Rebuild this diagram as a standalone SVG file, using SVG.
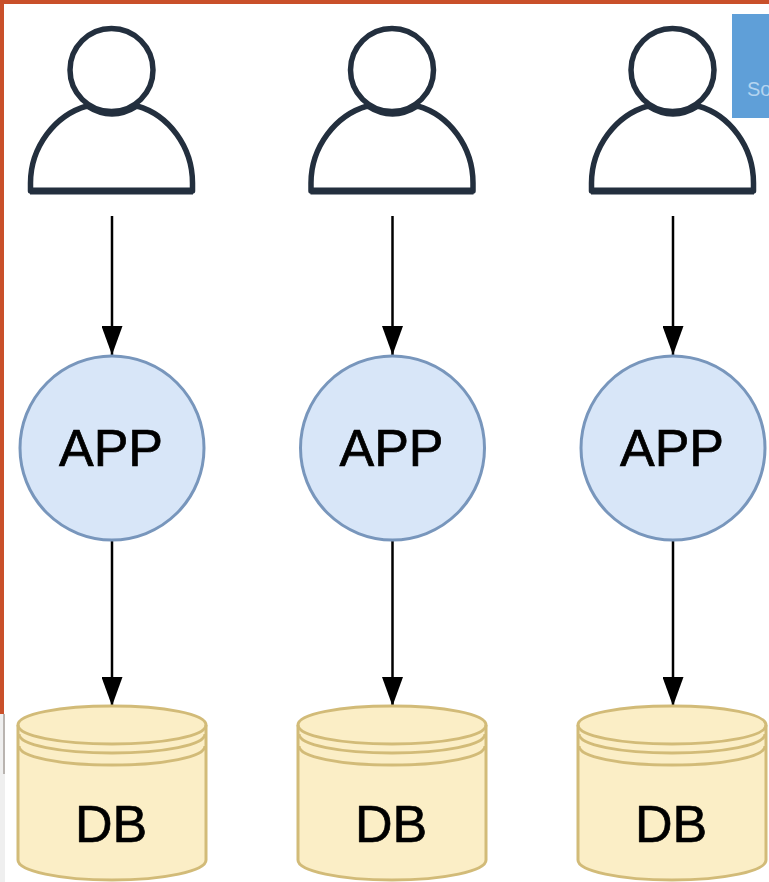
<svg xmlns="http://www.w3.org/2000/svg" width="769" height="882" viewBox="0 0 769 882">
<style>
.user{fill:#fff;stroke:#232f3e;stroke-width:5.500;stroke-linejoin:round}
.app{fill:#d8e6f8;stroke:#7896bc;stroke-width:3}
.db{fill:#fbeec6;stroke:#d2bb78;stroke-width:3}
.line{fill:none;stroke:#000;stroke-width:2.500}
.t{font-family:"Liberation Sans",Arial,sans-serif;font-size:52px;fill:#000;stroke:#000;stroke-width:.7;text-anchor:middle}
</style>
<defs>
<marker id="arrow" markerUnits="userSpaceOnUse" markerWidth="29" markerHeight="21" refX="29" refY="10.500" orient="auto" viewBox="0 0 29 21"><path d="M0 0L29 10.500L0 21Z" fill="#000"/></marker>
<g id="person">
<path class="user" d="M30.500 191V183C30.500 147 55 115 87 106Q112 122 137 106C169 115 192.500 147 192.500 183V191Z"/>
<path d="M30 191H193" fill="none" stroke="#232f3e" stroke-width="7"/>
<circle class="user" cx="111.500" cy="70" r="41.500"/>
</g>
<g id="cyl">
<path class="db" d="M18 725V860C18 871 60 880 112 880S206 871 206 860V725C206 714 164 706 112 706S18 714 18 725Z"/>
<path class="db" style="fill:none" d="M18 725C18 736 60 744 112 744S206 736 206 725M19 734C19 745 60 753 112 753S205 745 205 734M19 746C19 757 60 765 112 765S205 757 205 746"/>
</g>
</defs>
<rect width="769" height="882" fill="#fff"/>
<rect x="0" y="714" width="5" height="168" fill="#efefef"/>
<rect x="3" y="714" width="2" height="60" fill="#b9b4b0"/>
<rect x="0" y="0" width="769" height="4" fill="#c9502a"/>
<rect x="0" y="0" width="4" height="714" fill="#c9502a"/>
<g id="note">
<rect x="732" y="14" width="37" height="104" fill="#5f9fd8"/>
<text x="747" y="96" font-family="'Liberation Sans',Arial,sans-serif" font-size="20" fill="#b4d4f0">So</text>
</g>
<g id="connectors">
<path class="line" d="M112 216V355" marker-end="url(#arrow)"/>
<path class="line" d="M392.500 216V355" marker-end="url(#arrow)"/>
<path class="line" d="M673 216V355" marker-end="url(#arrow)"/>
<path class="line" d="M112 540V706" marker-end="url(#arrow)"/>
<path class="line" d="M392.500 540V706" marker-end="url(#arrow)"/>
<path class="line" d="M673 540V706" marker-end="url(#arrow)"/>
</g>
<g id="user1"><use href="#person"/></g>
<g id="user2"><use href="#person" x="280.500"/></g>
<g id="user3"><use href="#person" x="561"/></g>
<g id="app1"><circle class="app" cx="112" cy="448" r="92"/><text class="t" x="111" y="466">APP</text></g>
<g id="app2"><circle class="app" cx="392.500" cy="448" r="92"/><text class="t" x="391.500" y="466">APP</text></g>
<g id="app3"><circle class="app" cx="673" cy="448" r="92"/><text class="t" x="672" y="466">APP</text></g>
<g id="db1"><use href="#cyl"/><text class="t" x="111" y="842">DB</text></g>
<g id="db2"><use href="#cyl" x="280"/><text class="t" x="391" y="842">DB</text></g>
<g id="db3"><use href="#cyl" x="560"/><text class="t" x="671" y="842">DB</text></g>
</svg>
